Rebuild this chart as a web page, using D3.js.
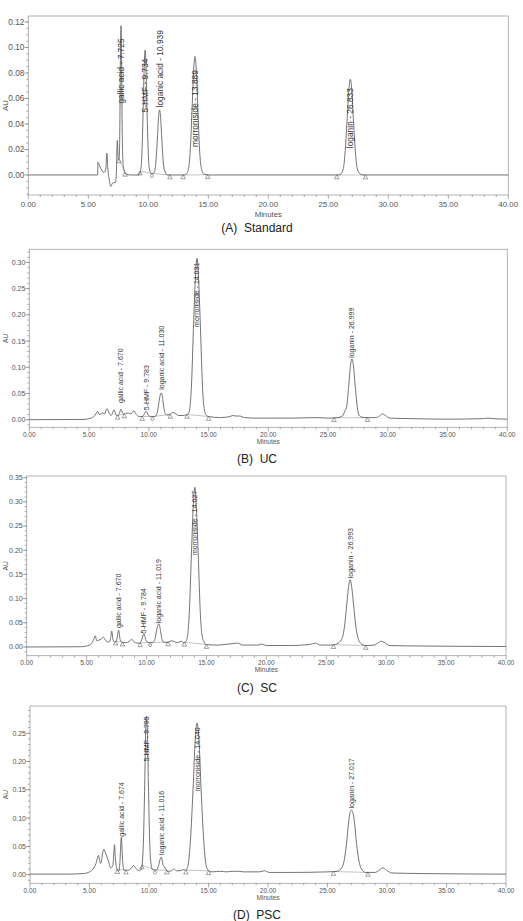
<html>
<head>
<script src="https://d3js.org/d3.v7.min.js"></script>
<style>
  body { margin: 0; background: #fff; }
  text { font-family: "Liberation Sans", Arial, sans-serif; }
</style>
</head>
<body>
<svg id="chart" width="523" height="921"></svg>
<script>
// ---- data ----
const compounds = ["gallic acid", "5-HMF", "loganic acid", "morroniside", "loganin"];
const captions = ["(A)  Standard", "(B)  UC", "(C)  SC", "(D)  PSC"];
const xTicks = [0, 5, 10, 15, 20, 25, 30, 35, 40];
const yTicksA = [0, 0.02, 0.04, 0.06, 0.08, 0.10, 0.12];
const yTicksB = [0, 0.05, 0.10, 0.15, 0.20, 0.25, 0.30];
const yTicksC = [0, 0.05, 0.10, 0.15, 0.20, 0.25, 0.30, 0.35];
const yTicksD = [0, 0.05, 0.10, 0.15, 0.20, 0.25];

// retention times shown in the peak labels
const rtA = [7.725, 9.734, 10.939, 13.889, 26.833];
const rtB = [7.670, 9.783, 11.030, 14.031, 26.999];
const rtC = [7.670, 9.784, 11.019, 14.027, 26.993];
const rtD = [7.674, 9.795, 11.016, 14.040, 27.017];
// AU level where each label starts
const labA = [0.056, 0.049, 0.053, 0.022, 0.021];
const labB = [0.032, 0.018, 0.057, 0.177, 0.118];
const labC = [0.039, 0.028, 0.049, 0.190, 0.142];
const labD = [0.067, 0.200, 0.035, 0.147, 0.117];

// integration start/end (minutes)
const baseA = [[7.55, 8.06], [9.3, 10.3], [10.3, 11.8], [12.9, 14.95], [25.7, 28.1]];
const baseB = [[7.4, 7.95], [9.45, 10.3], [10.3, 11.8], [13.2, 15.0], [25.5, 28.3]];
const baseC = [[7.43, 8.0], [9.46, 10.3], [10.3, 11.8], [13.15, 15.0], [25.6, 28.3]];
const baseD = [[7.34, 8.07], [9.4, 10.5], [10.5, 11.5], [13.1, 15.0], [25.5, 28.4]];

// traces [minutes, AU]
const traceA = [[0,0],[5.78,0],[5.8,0.010],[5.95,0.007],[6.1,0.004],[6.3,0.002],[6.45,0.004],[6.55,0.017],[6.62,0.006],
  [6.75,-0.004],[6.88,-0.009],[6.98,-0.007],[7.1,-0.006],[7.25,-0.006],[7.33,0.0],[7.42,0.027],[7.5,0.012],[7.58,0.013],
  [7.63,0.04],[7.68,0.095],[7.725,0.117],[7.77,0.095],[7.82,0.04],[7.88,0.012],[7.95,0.005],[8.1,0.001],[8.5,0],
  [9.2,0],[9.4,0.006],[9.49,0.022],[9.58,0.055],[9.67,0.088],[9.734,0.098],[9.8,0.088],[9.88,0.055],[9.98,0.022],[10.07,0.006],[10.25,0.001],
  [10.5,0.002],[10.64,0.011],[10.76,0.029],[10.86,0.046],[10.939,0.051],[11.02,0.046],[11.12,0.029],[11.24,0.011],[11.34,0.004],[11.6,0],
  [13.0,0],[13.2,0.001],[13.38,0.0065],[13.5,0.02],[13.65,0.052],[13.79,0.084],[13.889,0.093],[13.99,0.084],[14.13,0.052],[14.27,0.02],[14.4,0.0065],[14.6,0.001],[15,0],
  [25.8,0],[26.0,0.0005],[26.25,0.005],[26.39,0.0165],[26.56,0.042],[26.72,0.0675],[26.833,0.075],[26.95,0.0675],[27.1,0.042],[27.27,0.0165],[27.41,0.005],[27.7,0.0005],[28,0],[40,0]];

const traceB = [[0,0],[4.5,0.0005],[5.0,0.002],[5.4,0.006],[5.6,0.012],[5.72,0.016],[5.85,0.010],[6.0,0.011],[6.15,0.013],[6.3,0.011],
  [6.5,0.021],[6.7,0.012],[6.85,0.008],[7.1,0.019],[7.25,0.009],[7.45,0.008],[7.55,0.013],[7.67,0.020],[7.8,0.013],[7.95,0.011],
  [8.1,0.012],[8.3,0.013],[8.5,0.011],[8.75,0.017],[8.95,0.010],[9.2,0.006],[9.45,0.006],[9.62,0.011],[9.783,0.016],[9.95,0.009],
  [10.2,0.006],[10.5,0.006],[10.7,0.013],[10.85,0.033],[10.95,0.047],[11.03,0.051],[11.12,0.046],[11.22,0.030],[11.35,0.013],[11.55,0.009],
  [11.8,0.010],[12.0,0.014],[12.2,0.012],[12.5,0.008],[12.9,0.008],[13.1,0.009],[13.3,0.011],[13.45,0.025],[13.58,0.07],[13.73,0.17],[13.9,0.27],
  [14.031,0.308],[14.16,0.27],[14.33,0.17],[14.48,0.07],[14.61,0.025],[14.8,0.009],[15.0,0.006],[16.0,0.004],[16.8,0.006],[17.0,0.008],
  [17.3,0.007],[17.6,0.007],[18.0,0.004],[19,0.003],[20,0.003],[22,0.003],[24,0.004],[25,0.003],[25.8,0.004],[26.2,0.007],
  [26.42,0.017],[26.56,0.025],[26.73,0.065],[26.885,0.105],[26.999,0.116],[27.115,0.105],[27.27,0.065],[27.44,0.025],[27.58,0.009],[27.8,0.005],
  [28.2,0.004],[29.0,0.004],[29.3,0.007],[29.55,0.011],[29.8,0.008],[30.2,0.003],[32,0.002],[35,0.001],[38,0.002],[38.4,0.003],[38.8,0.002],[40,0.001]];

const traceC = [[0,0],[4.5,0.0005],[5.0,0.002],[5.4,0.007],[5.6,0.016],[5.72,0.023],[5.85,0.013],[6.0,0.014],[6.2,0.016],[6.4,0.020],
  [6.6,0.013],[6.85,0.010],[7.0,0.018],[7.1,0.033],[7.2,0.015],[7.35,0.010],[7.5,0.014],[7.67,0.035],[7.8,0.015],[7.95,0.010],
  [8.3,0.009],[8.55,0.011],[8.75,0.016],[8.95,0.011],[9.2,0.008],[9.45,0.008],[9.6,0.015],[9.784,0.028],[9.95,0.014],[10.2,0.009],
  [10.5,0.009],[10.7,0.016],[10.85,0.035],[10.95,0.045],[11.019,0.048],[11.1,0.043],[11.2,0.028],[11.35,0.012],[11.6,0.009],[11.9,0.011],
  [12.1,0.013],[12.3,0.011],[12.6,0.009],[12.9,0.012],[13.1,0.009],[13.3,0.012],[13.45,0.028],[13.58,0.075],[13.73,0.18],[13.9,0.29],
  [14.027,0.33],[14.155,0.29],[14.33,0.18],[14.48,0.075],[14.61,0.028],[14.8,0.01],[15.0,0.005],[16,0.004],[16.8,0.006],[17.2,0.007],
  [17.6,0.008],[18.0,0.004],[19.3,0.004],[19.6,0.006],[20,0.003],[22,0.003],[23.6,0.005],[24.1,0.008],[24.5,0.004],[25.5,0.004],
  [26.0,0.008],[26.35,0.02],[26.55,0.048],[26.72,0.090],[26.88,0.128],[26.993,0.139],[27.1,0.128],[27.27,0.090],[27.44,0.048],[27.63,0.02],
  [27.9,0.007],[28.3,0.003],[29.0,0.004],[29.3,0.008],[29.6,0.012],[29.85,0.009],[30.3,0.003],[33,0.002],[40,0.001]];

const traceD = [[0,0.001],[3,0.001],[4.5,0.002],[5.0,0.005],[5.3,0.010],[5.55,0.020],[5.75,0.034],[5.85,0.025],[5.92,0.020],[6.0,0.024],
  [6.1,0.038],[6.22,0.045],[6.35,0.038],[6.55,0.027],[6.8,0.012],[6.95,0.015],[7.05,0.040],[7.1,0.053],[7.17,0.030],[7.3,0.010],
  [7.45,0.006],[7.55,0.020],[7.674,0.066],[7.78,0.025],[7.9,0.008],[8.2,0.008],[8.5,0.011],[8.7,0.016],[8.9,0.011],[9.2,0.007],
  [9.35,0.010],[9.45,0.024],[9.54,0.065],[9.64,0.16],[9.725,0.255],[9.795,0.28],[9.865,0.255],[9.95,0.16],[10.05,0.065],[10.14,0.024],
  [10.3,0.009],[10.6,0.008],[10.8,0.016],[10.93,0.027],[11.016,0.031],[11.1,0.026],[11.2,0.016],[11.3,0.014],[11.4,0.010],[11.6,0.006],
  [11.9,0.007],[12.1,0.010],[12.3,0.007],[12.6,0.007],[12.9,0.009],[13.1,0.008],[13.3,0.019],[13.48,0.06],[13.7,0.15],[13.89,0.24],
  [14.04,0.268],[14.19,0.24],[14.38,0.15],[14.6,0.06],[14.78,0.019],[15.0,0.007],[15.3,0.005],[16,0.006],[16.5,0.005],[17.0,0.006],
  [17.5,0.006],[18.0,0.005],[19.3,0.005],[19.7,0.007],[20.1,0.004],[22,0.004],[25,0.005],[25.8,0.006],[26.2,0.012],[26.4,0.025],
  [26.6,0.055],[26.78,0.094],[26.9,0.11],[27.017,0.114],[27.13,0.11],[27.26,0.094],[27.44,0.055],[27.64,0.025],[27.85,0.010],[28.2,0.004],
  [29.0,0.004],[29.35,0.008],[29.65,0.012],[29.95,0.008],[30.4,0.003],[33,0.002],[40,0.001]];

// ---- layout of the four panels ----
const panels = [
  {trace: traceA, rt: rtA, lab: labA, base: baseA, yTicks: yTicksA, minor: 0.005, left: 28.3, right: 508.3, top: 16, bottom: 195,
   yDomain: [-0.0157, 0.1247], font: 7.8, labFont: 8.4, tickY: 12, minY: 22, capY: 232},
  {trace: traceB, rt: rtB, lab: labB, base: baseB, yTicks: yTicksB, minor: 0.01, left: 29.3, right: 507.3, top: 249.3, bottom: 427.3,
   yDomain: [-0.0145, 0.325], font: 6.6, labFont: 7, tickY: 10, minY: 17, capY: 463},
  {trace: traceC, rt: rtC, lab: labC, base: baseC, yTicks: yTicksC, minor: 0.01, left: 26.7, right: 506, top: 476, bottom: 655.7,
   yDomain: [-0.018, 0.3533], font: 6.6, labFont: 7, tickY: 9.5, minY: 16, capY: 692},
  {trace: traceD, rt: rtD, lab: labD, base: baseD, yTicks: yTicksD, minor: 0.01, left: 30, right: 506, top: 706, bottom: 883.3,
   yDomain: [-0.0152, 0.298], font: 6.6, labFont: 7, tickY: 10, minY: 16.5, capY: 919}
];

const svg = d3.select('#chart');

panels.forEach((p, i) => {
  const x = d3.scaleLinear().domain([0, 40]).range([p.left, p.right]);
  const y = d3.scaleLinear().domain(p.yDomain).range([p.bottom, p.top]);
  const g = svg.append('g');

  // frame
  g.append('rect')
    .attr('x', p.left).attr('y', p.top)
    .attr('width', p.right - p.left).attr('height', p.bottom - p.top)
    .attr('fill', 'none').attr('stroke', '#a0a0a0').attr('stroke-width', 0.8);

  // x axis ticks
  const xMinor = d3.range(0, 41, 1);
  g.selectAll('.xm').data(xMinor).enter().append('line')
    .attr('x1', d => x(d)).attr('x2', d => x(d))
    .attr('y1', p.bottom).attr('y2', d => p.bottom + (d % 5 === 0 ? 4 : 2))
    .attr('stroke', '#777').attr('stroke-width', 0.6);
  g.selectAll('.xl').data(xTicks).enter().append('text')
    .attr('x', d => x(d)).attr('y', p.bottom + p.tickY)
    .attr('text-anchor', 'middle').attr('font-size', p.font).attr('fill', '#555')
    .text(d => d.toFixed(2));
  g.append('text')
    .attr('x', (p.left + p.right) / 2).attr('y', p.bottom + p.minY)
    .attr('text-anchor', 'middle').attr('font-size', p.font).attr('fill', '#555')
    .text('Minutes');

  // y axis ticks
  const yMinor = d3.range(Math.ceil(p.yDomain[0] / p.minor) * p.minor, p.yDomain[1], p.minor);
  g.selectAll('.ym').data(yMinor).enter().append('line')
    .attr('x1', p.left).attr('x2', p.left - 2)
    .attr('y1', d => y(d)).attr('y2', d => y(d))
    .attr('stroke', '#777').attr('stroke-width', 0.6);
  g.selectAll('.yM').data(p.yTicks).enter().append('line')
    .attr('x1', p.left).attr('x2', p.left - 4)
    .attr('y1', d => y(d)).attr('y2', d => y(d))
    .attr('stroke', '#777').attr('stroke-width', 0.6);
  g.selectAll('.yl').data(p.yTicks).enter().append('text')
    .attr('x', p.left - 4).attr('y', d => y(d)).attr('dy', '0.35em')
    .attr('text-anchor', 'end').attr('font-size', p.font + 0.4).attr('fill', '#555')
    .text(d => d.toFixed(2));
  g.append('text')
    .attr('transform', `translate(8,${(p.top + p.bottom) / 2}) rotate(-90)`)
    .attr('text-anchor', 'middle').attr('font-size', p.font).attr('fill', '#555')
    .text('AU');

  // integration baselines and markers
  const at = t => {
    const k = d3.bisector(d => d[0]).left(p.trace, t);
    if (k <= 0) return p.trace[0][1];
    const a = p.trace[k - 1], b = p.trace[k];
    return a[1] + (b[1] - a[1]) * (t - a[0]) / (b[0] - a[0]);
  };
  g.selectAll('.bl').data(p.base).enter().append('line')
    .attr('x1', d => x(d[0])).attr('y1', d => y(at(d[0])))
    .attr('x2', d => x(d[1])).attr('y2', d => y(at(d[1])))
    .attr('stroke', '#888').attr('stroke-width', 0.5);
  const pts = [];
  p.base.forEach(d => d.forEach(t => pts.push(t)));
  const shared = t => pts.filter(v => v === t).length > 1;
  const uniq = Array.from(new Set(pts));
  g.selectAll('.mk').data(uniq).enter().append('path')
    .attr('d', t => d3.symbol().type(shared(t) ? d3.symbolCircle : d3.symbolTriangle).size(shared(t) ? 7 : 9)())
    .attr('transform', t => `translate(${x(t)},${y(at(t)) + 2.5})`)
    .attr('fill', 'none').attr('stroke', '#666').attr('stroke-width', 0.6);

  // chromatogram trace
  const line = d3.line().x(d => x(d[0])).y(d => y(d[1])).curve(d3.curveMonotoneX);
  g.append('path').datum(p.trace)
    .attr('d', line).attr('fill', 'none')
    .attr('stroke', '#5a5a5a').attr('stroke-width', 0.85);

  // peak labels
  g.selectAll('.pl').data(compounds).enter().append('text')
    .attr('transform', (d, k) => `translate(${x(p.rt[k])},${y(p.lab[k])}) rotate(-90)`)
    .attr('dy', '0.35em').attr('font-size', p.labFont).attr('fill', '#333')
    .text((d, k) => `${d} - ${p.rt[k].toFixed(3)}`);

  // caption
  svg.append('text')
    .attr('x', 257).attr('y', p.capY)
    .attr('text-anchor', 'middle').attr('font-size', 12).attr('fill', '#222')
    .style('white-space', 'pre')
    .text(captions[i]);
});
</script>
</body>
</html>
